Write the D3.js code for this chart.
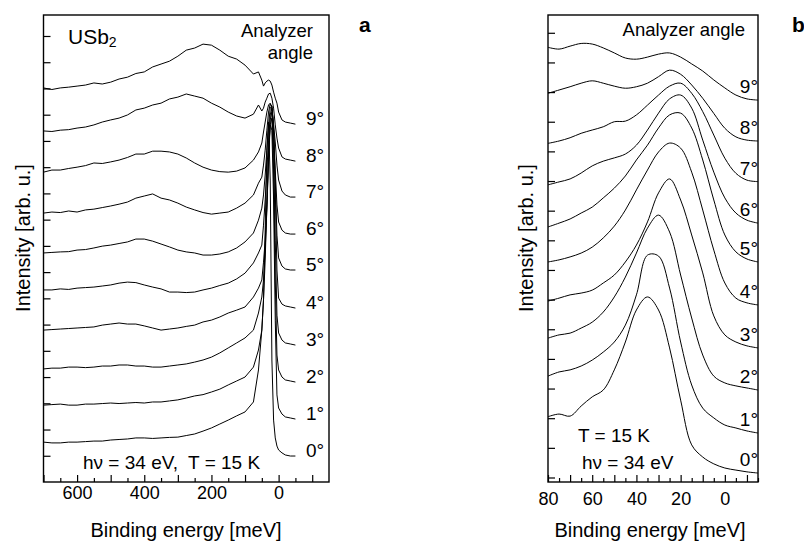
<!DOCTYPE html>
<html><head><meta charset="utf-8">
<script src="https://cdn.jsdelivr.net/npm/d3@7"></script>
<style>
body{margin:0;background:#fff}
svg text{font-family:"Liberation Sans",Arial,Helvetica,sans-serif;fill:#000}
</style>
</head><body>
<svg id="c" width="804" height="541"></svg>
<script>
// ---------- Panel a data (binding energy in meV, intensity in arb. u., curves stacked) ----------
const anglesA = ["0°","1°","2°","3°","4°","5°","6°","7°","8°","9°"];
const energyA = [700,675,650,625,600,575,550,525,500,475,450,425,400,375,350,325,300,275,250,225,200,175,150,125,100,75,60,50,45,40,35,30,25,20,15,10,5,0,-10,-20,-35,-50];
const a0 = [1.52,1.49,1.49,1.52,1.52,1.54,1.56,1.56,1.60,1.62,1.64,1.68,1.68,1.66,1.68,1.70,1.71,1.77,1.83,1.94,2.06,2.21,2.36,2.52,2.67,3.05,4.27,5.79,6.94,9.60,12.65,13.72,11.51,4.65,2.36,1.68,1.37,1.22,1.11,1.03,0.99,0.99];
const a1 = [2.93,2.95,2.97,2.93,2.93,2.97,2.97,2.99,3.01,2.99,3.01,3.03,3.01,3.05,3.05,3.09,3.13,3.20,3.28,3.33,3.43,3.54,3.70,3.85,4.00,4.38,5.03,5.79,6.94,8.46,10.56,12.65,13.61,13.41,10.75,6.17,3.32,2.82,2.59,2.48,2.44,2.40];
const a2 = [4.31,4.34,4.34,4.38,4.38,4.36,4.38,4.42,4.42,4.46,4.46,4.42,4.42,4.38,4.38,4.42,4.46,4.50,4.57,4.65,4.76,4.92,5.11,5.30,5.49,5.79,6.44,7.05,7.70,8.84,10.37,12.27,13.61,13.87,11.89,7.70,4.84,4.27,4.00,3.89,3.85,3.81];
const a3 = [5.79,5.81,5.83,5.85,5.87,5.89,5.91,5.98,6.02,6.06,6.02,6.02,5.95,5.87,5.79,5.83,5.87,5.93,5.98,6.10,6.17,6.29,6.44,6.55,6.67,7.05,7.39,7.70,8.38,9.22,10.56,12.27,13.80,14.10,12.65,9.22,6.36,5.68,5.41,5.30,5.26,5.22];
const a4 = [7.32,7.32,7.36,7.34,7.39,7.41,7.43,7.47,7.51,7.58,7.62,7.60,7.51,7.43,7.36,7.24,7.24,7.22,7.24,7.32,7.39,7.49,7.58,7.74,7.96,8.35,8.73,9.03,9.79,10.75,11.89,13.03,13.99,14.25,13.61,11.13,8.08,7.01,6.78,6.71,6.67,6.63];
const a5 = [8.73,8.75,8.77,8.78,8.84,8.86,8.92,8.99,9.03,9.09,9.15,9.26,9.26,9.18,9.07,8.96,8.84,8.77,8.73,8.65,8.65,8.69,8.77,8.92,9.15,9.49,9.98,10.44,10.94,11.70,12.65,13.61,14.25,14.33,13.41,11.51,9.41,8.54,8.23,8.12,8.08,8.08];
const a6 = [10.25,10.29,10.27,10.33,10.29,10.37,10.40,10.46,10.52,10.59,10.67,10.82,10.90,10.98,10.82,10.75,10.63,10.48,10.37,10.27,10.21,10.25,10.29,10.44,10.63,10.94,11.39,11.62,12.08,12.65,13.41,14.10,14.41,14.33,13.41,11.89,10.56,9.91,9.60,9.49,9.45,9.45];
const a7 = [11.81,11.89,11.89,11.95,12.00,12.06,12.16,12.14,12.20,12.27,12.37,12.50,12.50,12.61,12.61,12.58,12.50,12.35,12.16,12.00,11.89,11.83,11.81,11.85,11.97,12.27,12.58,12.92,13.34,13.72,14.10,14.37,14.44,14.25,13.61,12.96,12.08,11.51,11.09,10.94,10.86,10.86];
const a8 = [13.38,13.36,13.41,13.43,13.49,13.53,13.61,13.72,13.80,13.87,13.99,14.18,14.25,14.37,14.44,14.60,14.67,14.79,14.71,14.63,14.44,14.29,14.10,13.95,13.87,14.02,14.37,14.14,14.25,14.48,14.63,14.79,14.82,14.63,14.25,13.61,13.11,12.73,12.39,12.31,12.27,12.23];
const a9 = [15.02,14.96,15.02,15.05,15.09,15.13,15.21,15.17,15.24,15.36,15.43,15.57,15.63,15.82,15.93,16.04,16.23,16.46,16.54,16.69,16.65,16.46,16.23,16.12,15.89,15.55,15.63,15.32,15.09,15.21,15.28,15.32,15.28,15.13,14.86,14.63,14.44,14.10,13.80,13.72,13.68,13.64];
const seriesA = [a0,a1,a2,a3,a4,a5,a6,a7,a8,a9];
const xTickLabelsA = [600,400,200,0];

// ---------- Panel b data ----------
const anglesB = ["0°","1°","2°","3°","4°","5°","6°","7°","8°","9°"];
const energyB = [80,75,70,65,60,55,50,45,40,35,30,25,20,15,10,5,0,-5,-10,-15];
const b0 = [2.05,2.14,2.07,2.41,2.72,2.95,3.63,4.57,5.65,6.09,5.65,4.37,2.61,1.10,0.69,0.46,0.32,0.25,0.19,0.15];
const b1 = [3.42,3.56,3.63,3.76,3.96,4.23,4.57,5.14,6.16,7.50,7.47,6.39,4.57,3.12,2.34,2.01,1.77,1.67,1.57,1.50];
const b2 = [4.70,4.81,4.87,5.04,5.24,5.58,6.09,6.76,7.57,8.41,8.85,8.28,6.83,5.38,4.13,3.42,3.19,3.09,3.02,2.95];
const b3 = [5.95,6.05,6.16,6.22,6.32,6.56,6.83,7.27,7.84,8.62,9.60,10.07,9.36,8.18,6.90,5.45,4.81,4.57,4.44,4.37];
const b4 = [7.27,7.34,7.44,7.57,7.77,8.08,8.48,9.02,9.70,10.37,10.98,11.28,11.11,10.30,9.02,7.67,6.56,6.05,5.89,5.82];
const b5 = [8.45,8.58,8.72,8.92,9.12,9.43,9.76,10.17,10.71,11.21,11.79,12.23,12.29,11.79,10.71,9.36,8.18,7.61,7.37,7.27];
const b6 = [9.87,9.97,10.07,10.27,10.51,10.67,10.78,10.91,11.21,11.72,12.29,12.77,12.90,12.46,11.38,10.30,9.43,8.92,8.68,8.58];
const b7 = [11.27,11.35,11.46,11.61,11.72,11.83,12.00,12.02,12.23,12.56,12.90,13.20,13.30,12.96,12.34,11.55,10.77,10.26,10.03,9.98];
const b8 = [12.96,13.07,13.18,13.30,13.38,13.30,13.20,13.13,13.18,13.30,13.52,13.74,13.60,13.24,12.79,12.28,11.78,11.49,11.38,11.35];
const b9 = [14.51,14.45,14.55,14.64,14.62,14.49,14.32,14.15,14.11,14.18,14.28,14.32,14.18,13.95,13.71,13.41,13.14,12.90,12.77,12.73];
const seriesB = [b0,b1,b2,b3,b4,b5,b6,b7,b8,b9];
const xTickLabelsB = [80,60,40,20,0];

// ---------- drawing ----------
const svg = d3.select("#c");
const FONT = '"Liberation Sans",Arial,Helvetica,sans-serif';

const xA = d3.scaleLinear().domain([700,-150]).range([43.5,329]);
const yA = d3.scaleLinear().domain([0,17.8]).range([482,15]);
const xB = d3.scaleLinear().domain([80,-15]).range([548,758]);
const yB = d3.scaleLinear().domain([-0.152,15.6]).range([482,15]);

function styleAxis(g, size){
  g.select(".domain").remove();
  g.selectAll("line").attr("stroke","#000").attr("stroke-width",1.2);
  g.selectAll("text").attr("font-family",FONT).attr("font-size",size).attr("fill","#000");
}

function drawPanel(x, y, energies, series, angles, majors, minors, labels, yTicks, pad, labelX, labelAnchor, labelDy, curve){
  const [x0,x1] = x.range(), [yb,yt] = y.range();
  // x ticks (inward)
  svg.append("g").attr("transform",`translate(0,${yb})`)
    .call(d3.axisBottom(x).tickValues(majors).tickSize(-7).tickPadding(pad)
      .tickFormat(d => labels.includes(d) ? String(d) : ""))
    .call(g => styleAxis(g, 18));
  svg.append("g").attr("transform",`translate(0,${yb})`)
    .call(d3.axisBottom(x).tickValues(minors).tickSize(-4).tickFormat(""))
    .call(g => styleAxis(g, 18));
  // y ticks (inward)
  svg.append("g").attr("transform",`translate(${x0},0)`)
    .call(d3.axisLeft(y).tickValues(yTicks).tickSize(-7).tickFormat(""))
    .call(g => styleAxis(g, 18));
  // curves
  const line = d3.line().x((d,i)=>x(energies[i])).y(d=>y(d)).curve(curve);
  svg.append("g").selectAll("path").data(series).join("path")
    .attr("d", line).attr("fill","none").attr("stroke","#000").attr("stroke-width",1);
  // angle labels
  svg.append("g").selectAll("text").data(series).join("text")
    .attr("x", labelX).attr("y", d => y(d[d.length-1]) + labelDy)
    .attr("text-anchor", labelAnchor).attr("font-size",19)
    .text((d,i)=>angles[i]);
  // frame
  svg.append("rect").attr("x",x0).attr("y",yt).attr("width",x1-x0).attr("height",yb-yt)
    .attr("fill","none").attr("stroke","#000").attr("stroke-width",1.4);
}

drawPanel(xA, yA, energyA, seriesA, anglesA,
  d3.range(-100, 701, 100), d3.range(-50, 651, 100), xTickLabelsA, d3.range(1,18),
  4, 306, "start", 1, d3.curveLinear);
drawPanel(xB, yB, energyB, seriesB, anglesB,
  d3.range(-10, 81, 10), d3.range(-15, 76, 10), xTickLabelsB, d3.range(0,16),
  10, 758, "end", -7, d3.curveCatmullRom.alpha(0.5));

// texts panel a
const t = (x,y,s,size,opts={}) => {
  const e = svg.append("text").attr("x",x).attr("y",y).attr("font-size",size).text(s);
  Object.entries(opts).forEach(([k,v])=>e.attr(k,v));
  return e;
};
const us = svg.append("text").attr("x",68).attr("y",44).attr("font-size",21);
us.append("tspan").text("USb");
us.append("tspan").attr("font-size",14).attr("dy",3).text("2");
t(313,37,"Analyzer",18.5,{"text-anchor":"end"});
t(313,59,"angle",18.5,{"text-anchor":"end"});
t(83,469,"hν = 34 eV,\u00a0 T = 15 K",19);
t(359,32,"a",21,{"font-weight":"bold"});
t(186,537,"Binding energy [meV]",20,{"text-anchor":"middle"});
t(30,238,"Intensity [arb. u.]",20,{"text-anchor":"middle","transform":"rotate(-90,30,238)"});

// texts panel b
t(745,36,"Analyzer angle",18.5,{"text-anchor":"end"});
t(578,442,"T = 15 K",19);
t(582,469,"hν = 34 eV",19);
t(792,32,"b",21,{"font-weight":"bold"});
t(650,537,"Binding energy [meV]",20,{"text-anchor":"middle"});
t(533,238,"Intensity [arb. u.]",20,{"text-anchor":"middle","transform":"rotate(-90,533,238)"});
</script>
</body></html>
